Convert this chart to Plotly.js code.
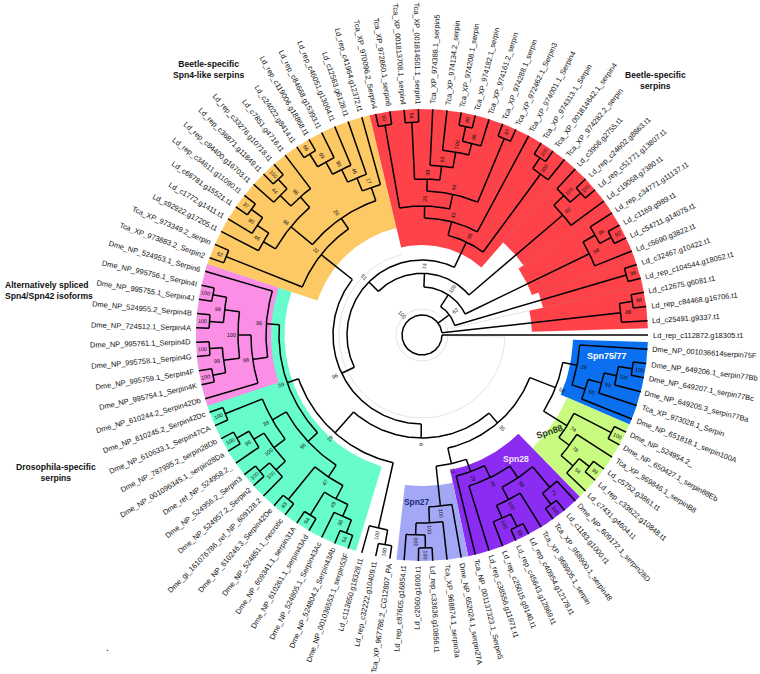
<!DOCTYPE html>
<html>
<head>
<meta charset="utf-8">
<script src="https://cdn.plot.ly/plotly-3.0.1.min.js"></script>
<style>html,body{margin:0;padding:0;background:#fff}</style>
</head>
<body>
<div id="tree" style="width:760px;height:674px"></div>
<script>
//Leaf names, clockwise from the east
var leaves = ["Ld_rep_c112872.g18305.t1","Dme_NP_001036614serpin75F","Dme_NP_649206.1_serpin77Bb","Dme_NP_649207.1_serpin77Bc","Dme_NP_649205.3_serpin77Ba","Tca_XP_973028.1_Serpin","Dme_NP_651818.1_serpin100A","Dme_NP_524954.2_","Dme_NP_650427.1_serpin88Eb","Tca_XP_969846.1_serpinB8","Ld_c5752.g3861.t1","Ld_rep_c33622.g10848.t1","Ld_c7431.g4604.t1","Dme_NP_609172.1_serpin28D","Ld_c1183.g1000.t1","Tca_XP_968900.1_serpin48","Tca_XP_968905.1_serpin","Ld_rep_c40954.g12178.t1","Ld_rep_c45643.g12869.t1","Ld_rep_c25015.g9140.t1","Ld_rep_c38556.g11971.t1","Tca_NP_001137323.1_Serpin5","Dme_NP_652024.1_serpin27A","Tca_XP_968874.1_serpin3a","Ld_rep_c33636.g10856.t1","Ld_c2060.g1600.t1","Ld_rep_c87605.g16854.t1","Tca_XP_967786.2_CG12807_PA","Ld_rep_c32222.g10409.t1","Ld_c113650.g18328.t1","Dme_NP_001036553.1_serpin53F","Dme_NP_524804.2_Serpin43Ab","Dme_NP_524805.1_Serpin43Ac","Dme_NP_610261.1_serpin43Ad","Dme_NP_609341.1_serpin31A","Dme_NP_524851.1_necrotic","Dme_NP_610246.3_Serpin42De","Dme_gi_161076786_ref_NP_609128.2","Dme_NP_524957.2_Serpin2","Dme_NP_524956.2_Serpin3","Dme_ref_NP_524958.2_","Dme_NP_001096345.1_serpin28Da","Dme_NP_787995.2_serpin28Db","Dme_NP_610633.1_Serpin47CA","Dme_NP_610245.2_Serpin42Dc","Dme_NP_610244.2_Serpin42Db","Dme_NP_995754.1_Serpin4K","Dme_NP_995759.1_Serpin4F","Dme_NP_995758.1_Serpin4G","Dme_NP_995761.1_Serpin4D","Dme_NP_724512.1_Serpin4A","Dme_NP_524955.2_Serpin4B","Dme_NP_995755.1_Serpin4J","Dme_NP_995756.1_Serpin4I","Dme_NP_524953.1_Serpin6","Tca_XP_973883.2_Serpin2","Tca_XP_973349.2_serpin","Ld_s92922.g17205.t1","Ld_c1772.g1411.t1","Ld_c66781.g15521.t1","Ld_rep_c34611.g11090.t1","Ld_rep_c84400.g16703.t1","Ld_rep_c36871.g11849.t1","Ld_rep_c33276.g10718.t1","Ld_c7851.g4716.t1","Ld_c24022.g8414.t1","Ld_rep_c119006.g18868.t1","Ld_rep_c84668.g15393.t1","Ld_rep_c46051.g13064.t1","Ld_c12563.g6128.t1","Ld_rep_c41964.g12372.t1","Tca_XP_970096.2_Serpin4","Tca_XP_972860.1_serpin6","Tca_XP_001813708.1_serpin4","Tca_XP_001814501.1_serpin1","Tca_XP_974388.1_serpin5","Tca_XP_974134.2_serpin","Tca_XP_974208.1_serpin","Tca_XP_974182.1_serpin","Tca_XP_974161.2_serpin","Tca_XP_974288.1_serpin","Tca_XP_972462.1_Serpin3","Tca_XP_974001.1_Serpin4","Tca_XP_974313.1_Serpin","Tca_XP_001814642.1_serpin4","Tca_XP_974282.2_serpin","Ld_c3906.g2755.t1","Ld_rep_c24602.g8863.t1","Ld_rep_c51771.g13807.t1","Ld_c19068.g7380.t1","Ld_rep_c34771.g11137.t1","Ld_c1169.g989.t1","Ld_c54711.g14075.t1","Ld_c5690.g3822.t1","Ld_c32467.g10422.t1","Ld_rep_c104544.g18052.t1","Ld_c12675.g6081.t1","Ld_rep_c84468.g16706.t1","Ld_c25491.g9337.t1"];

//Clades: [node depth, support, child, child], a plain number is a leaf
var blueClade = [158,28,1,[172,60,[186,99,[199,100,[213,100,2,3],4],5],6]];
var greenClade = [171,74,[213,100,7,8],[184,78,9,[200,94,[213,99,10,11],12]]];
var purpleClade = [145,29,[158,44,[172,98,[199,71,13,[213,100,14,15]],[186,100,16,[200,100,[214,98,17,18],19]]],20],21];
var periClade = [172,100,[188,100,23,[200,100,[213,100,24,25],26]],22];
var outgroupClade = [198,100,[213,100,27,28],29];
var tealClade = [156,96,
  [170,47,[185,49,[198,36,[212,54,30,31],32],[212,94,33,34]],[212,63,35,36]],
  [172,39,[186,100,[199,100,37,[212,100,38,39]],[198,96,40,[212,100,41,42]]],[212,100,43,44]]];
var pinkClade = [156,96,[171,98,45,[184,100,[200,99,[213,100,46,47],[213,100,48,49]],[199,98,[213,100,50,51],[213,100,52,53]]]],54];
var orangeClade = [129,32,[211,62,55,56],[142,26,
  [170,96,[184,46,57,[198,80,58,[212,37,59,60]]],[184,96,[199,44,61,[212,100,62,63]],64]],
  [156,17,[170,46,[184,90,[198,69,[213,66,65,66],67],68],69],70]]];
var redClade = [103,95,
  [117,43,[129,26,[213,90,71,72],[144,49,[156,38,[213,54,73,74],[170,63,75,[186,100,76,[198,96,[213,96,77,78],79]]]],[213,97,80,81]]],82],
  [200,100,[213,100,83,84],85]];
var redClade2 = [185,62,[199,100,86,[213,100,87,88]],89];
var redClade3 = [186,98,[200,96,90,[213,92,91,92]],93];
var redClade4 = [213,98,94,95];
var redClade5 = [200,48,[213,98,96,97],98];

//Backbone
var lowerBackbone = [103,9,[131,29,outgroupClade,[143,39,pinkClade,tealClade]],[116,35,[143.5,59,blueClade,greenClade],[132,72,purpleClade,periClade]]];
var upperBackbone = [75,51,[89,96,lowerBackbone,orangeClade],redClade];
var treeRoot = [20,100,0,[34,62,[48,100,[61.7,74,upperBackbone,redClade2],redClade3],redClade4],redClade5];

//Coloured sectors, painted in this order
var sectorColors = ["#66fccb","#fb8fe6","#fdc965","#fe4249","#fe4249","#fe4249","#fe4249","#fe4249","#0a70f0","#c9fb80","#8a2cf2","#a3a8f6"];
var sectorFrom = [107,161.7,198.3,256.6,311.3,325.5,340,347.2,1.8,23.3,45.7,78.2];
var sectorTo = [198.3,198.3,256.6,311.3,325.5,340,347.2,358.3,23.3,45.7,78.2,96.5];
var sectorInner = [137.5,151,110,90,123,117,124,110,151,158,138,151];
var sectorOuter = 226;
var sectorSeams = [311.3,325.5,340,347.2];

var groupTitles = ["Beetle-specific<br>Spn4-like serpins","Beetle-specific<br>serpins","Alternatively spliced<br>Spn4/Spn42 isoforms","Drosophila-specific<br>serpins"];
var cladeTitles = ["Spn75/77","Spn88","Spn28","Spn27"];

var leafStep = 360/leaves.length;
var leafFont = 7.45;
var fontName = '"Liberation Sans", Arial, sans-serif';

function px(r,a){ return r*Math.cos(a*Math.PI/180); }
function py(r,a){ return -r*Math.sin(a*Math.PI/180); }

var branchX = [], branchY = [], notes = [];

var canvas = document.createElement('canvas').getContext('2d');
canvas.font = leafFont+'px "Liberation Sans"';

function radial(a,r0,r1){
  branchX.push(px(r0,a),px(r1,a),null);
  branchY.push(py(r0,a),py(r1,a),null);
}
function arc(a0,a1,r,xs,ys){
  for (var a=a0; a<a1; a+=1){ xs.push(px(r,a)); ys.push(py(r,a)); }
  xs.push(px(r,a1),null); ys.push(py(r,a1),null);
}
function textAngle(a){
  if (a>90 && a<270) return a-180;
  return a>180 ? a-360 : a;
}
function note(text,r,a,size){
  notes.push({x:px(r,a),y:py(r,a),xref:'x',yref:'y',text:String(text),showarrow:false,
    xanchor:'center',yanchor:'middle',textangle:textAngle(a),borderpad:0,
    font:{family:fontName,size:size,color:'#111'}});
}

//walks a clade, returns the angle of the node
function walk(node,parentR){
  if (typeof node === 'number'){
    var a = node*leafStep;
    radial(a,parentR,226);
    var w = canvas.measureText(leaves[node]).width;
    note(leaves[node],231+w/2,a,leafFont);
    return a;
  }
  var r = node[0], lo = 999, hi = -999;
  for (var i=2;i<node.length;i++){
    var c = walk(node[i],r);
    lo = Math.min(lo,c); hi = Math.max(hi,c);
  }
  arc(lo,hi,r,branchX,branchY);
  var mid = (lo+hi)/2;
  if (parentR!==null){
    radial(mid,parentR,r);
    note(node[1],r+7,mid,5.4);
  }
  return mid;
}
walk(treeRoot,null);
note(treeRoot[1],28,227,5.4);

//sectors
var data = [];
for (var s=0;s<sectorColors.length;s++){
  var sx = [], sy = [];
  for (var a=sectorFrom[s]; a<sectorTo[s]; a+=1){ sx.push(px(sectorOuter,a)); sy.push(py(sectorOuter,a)); }
  sx.push(px(sectorOuter,sectorTo[s])); sy.push(py(sectorOuter,sectorTo[s]));
  for (var b=sectorTo[s]; b>sectorFrom[s]; b-=1){ sx.push(px(sectorInner[s],b)); sy.push(py(sectorInner[s],b)); }
  sx.push(px(sectorInner[s],sectorFrom[s])); sy.push(py(sectorInner[s],sectorFrom[s]));
  data.push({x:sx,y:sy,type:'scatter',mode:'lines',fill:'toself',fillcolor:sectorColors[s],line:{width:0},hoverinfo:'skip'});
}

//faint seams between the red sectors
var seamX = [], seamY = [];
for (var k=0;k<sectorSeams.length;k++){
  seamX.push(px(125,sectorSeams[k]),px(226,sectorSeams[k]),null);
  seamY.push(py(125,sectorSeams[k]),py(226,sectorSeams[k]),null);
}
data.push({x:seamX,y:seamY,type:'scatter',mode:'lines',line:{color:'#d8434c',width:0.7},hoverinfo:'skip'});

//grey guide rings
var guideX = [], guideY = [];
arc(0,360,26,guideX,guideY);
arc(1.5,256,83,guideX,guideY);
guideX.push(px(21,1.5),px(83,1.5),null); guideY.push(py(21,1.5),py(83,1.5),null);
guideX.push(px(30,347.2),px(110,347.2),null); guideY.push(py(30,347.2),py(110,347.2),null);
data.push({x:guideX,y:guideY,type:'scatter',mode:'lines',line:{color:'#dcdcdc',width:0.8},hoverinfo:'skip'});

data.push({x:branchX,y:branchY,type:'scatter',mode:'lines',line:{color:'#000',width:1.5},hoverinfo:'skip'});

//titles
function free(text,x,y,size,color,angle,align){
  notes.push({x:x,y:y,xref:'x',yref:'y',text:text,showarrow:false,xanchor:align||'center',yanchor:'middle',align:align||'center',
    textangle:angle||0,font:{family:fontName,size:size,color:color}});
}
free('<b>'+groupTitles[0].replace('<br>','</b><br><b>')+'</b>',-214,266,8.6,'#111');
free('<b>'+groupTitles[1].replace('<br>','</b><br><b>')+'</b>',233,255,8.6,'#111');
free('<b>'+groupTitles[2].replace('<br>','</b><br><b>')+'</b>',-419,45,8.6,'#111',0,'left');
free('<b>'+groupTitles[3].replace('<br>','</b><br><b>')+'</b>',-366,-137,8.6,'#111');
free('<b>'+cladeTitles[0]+'</b>',185,-21,9,'#fff');
free('<b>'+cladeTitles[1]+'</b>',127,-97,9,'#2a3a20',-18);
free('<b>'+cladeTitles[2]+'</b>',94,-124,8.6,'#f3e4ff');
free('<b>'+cladeTitles[3]+'</b>',-6,-167,8.4,'#1c2a78');
free('.',-315,-312,10,'#000');

var layout = {
  width:760,height:674,
  margin:{l:0,r:0,t:0,b:0},
  showlegend:false,
  paper_bgcolor:'#fff',plot_bgcolor:'#fff',
  xaxis:{range:[-422,338],visible:false,fixedrange:true},
  yaxis:{range:[-339,335],visible:false,fixedrange:true},
  annotations:notes
};

Plotly.newPlot('tree',data,layout,{staticPlot:true});
</script>
</body>
</html>
